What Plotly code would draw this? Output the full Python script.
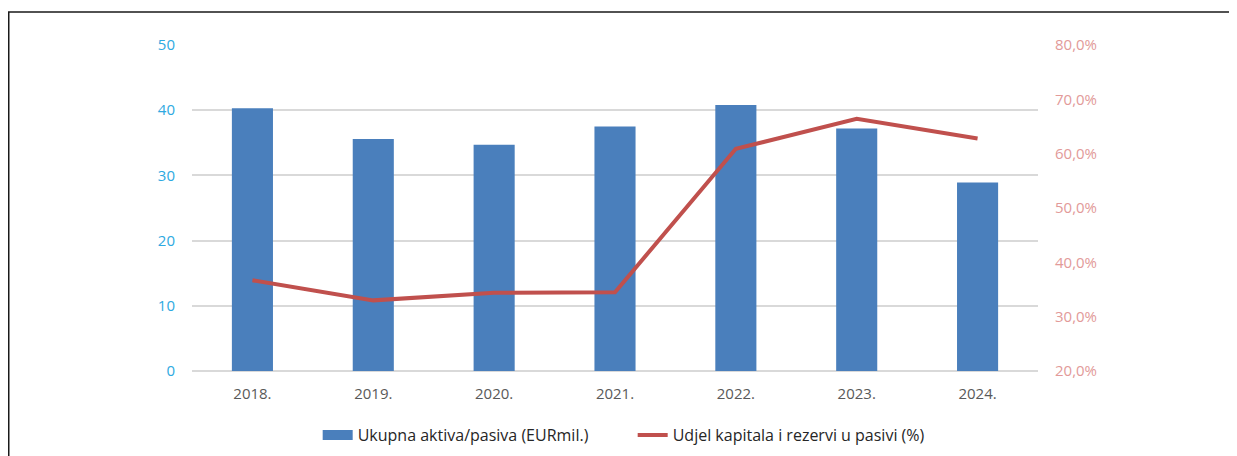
import plotly.graph_objects as go

years = ["2018.", "2019.", "2020.", "2021.", "2022.", "2023.", "2024."]
total_assets = [40.3, 35.6, 34.7, 37.5, 40.8, 37.2, 28.9]      # EUR mil.
equity_share = [36.7, 33.0, 34.4, 34.5, 60.9, 66.4, 62.8]      # %

BAR_COLOR = "#4A7FBC"
LINE_COLOR = "#C0504D"
FONT = "'Open Sans', 'Noto Sans', sans-serif"

# page body has an 8px margin, so the plot box is placed 8px up/left of the reference
L, T, W, H = 184, 37, 846, 326

fig = go.Figure()

fig.add_trace(go.Bar(
    x=years, y=total_assets,
    name="Ukupna aktiva/pasiva (EURmil.)",
    marker=dict(color=BAR_COLOR, line=dict(width=0)),
    width=0.34,
    showlegend=False,
))
# legend proxy so the bar key shows as a wide flat block like in Excel
fig.add_trace(go.Scatter(
    x=[None], y=[None], mode="lines",
    name="Ukupna aktiva/pasiva (EURmil.)",
    line=dict(color=BAR_COLOR, width=10),
))

fig.add_trace(go.Scatter(
    x=years, y=equity_share,
    name="Udjel kapitala i rezervi u pasivi (%)",
    mode="lines",
    line=dict(color=LINE_COLOR, width=4),
    yaxis="y2",
))

fig.update_layout(
    width=1237, height=456,
    margin=dict(l=L, r=1237 - L - W, t=T, b=456 - T - H, autoexpand=False),
    paper_bgcolor="white", plot_bgcolor="white",
    separators=",.",
    font=dict(family=FONT, size=14, color="#404040"),
    showlegend=True,
    legend=dict(
        orientation="h", xref="container", yref="container",
        x=0.505, xanchor="center", y=1 - 427 / 456, yanchor="middle",
        font=dict(size=16, color="#262626"),
        entrywidth=270, tracegroupgap=0,
    ),
    xaxis=dict(
        showgrid=False, showline=False, ticks="", ticklabelstandoff=12,
        tickfont=dict(size=15, color="#595959"),
    ),
    yaxis=dict(
        range=[0, 50], dtick=10, showgrid=True, gridcolor="#D9D9D9", gridwidth=1.5,
        zeroline=True, zerolinecolor="#D9D9D9", zerolinewidth=1.5,
        showline=False, ticks="", ticklabelstandoff=16,
        tickfont=dict(size=15, color="#2EA9E1"),
    ),
    yaxis2=dict(
        overlaying="y", side="right", range=[20, 80], dtick=10,
        tickformat=".1f", ticksuffix="%", showgrid=False, zeroline=False,
        showline=False, ticks="", ticklabelstandoff=16,
        tickfont=dict(size=15, color="#E29A99"),
    ),
    shapes=[dict(
        type="rect", xref="paper", yref="paper",
        x0=(0.75 - L) / W, x1=(1222 - L) / W,
        y0=(T + H - 480) / H, y1=(T + H - 4) / H,
        line=dict(color="#1a1a1a", width=1.5), fillcolor="rgba(0,0,0,0)",
        layer="below",
    )],
)

fig.write_html("out.html")
